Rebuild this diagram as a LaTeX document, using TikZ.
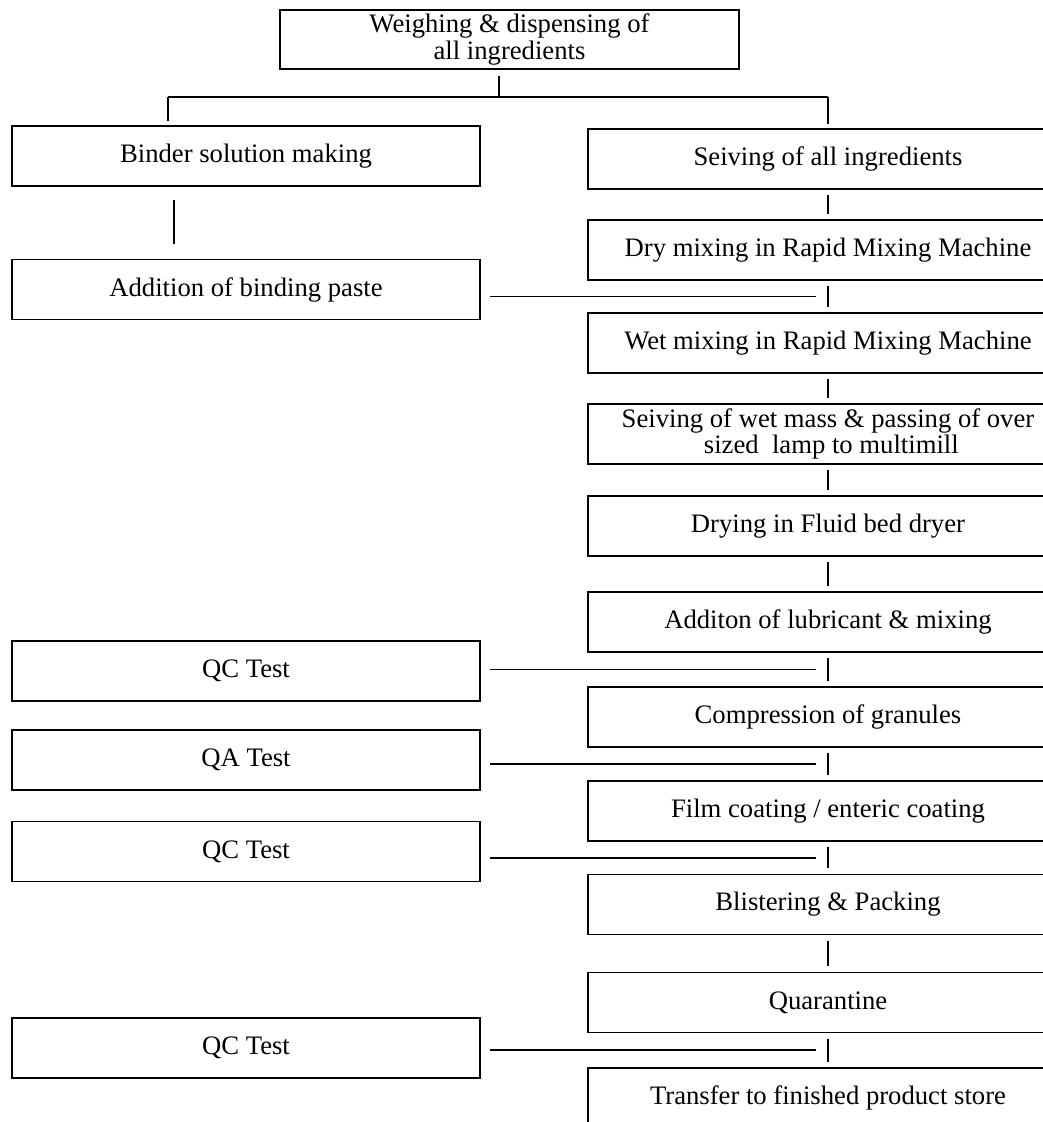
\documentclass[tikz,border=0pt]{standalone}
\usepackage{fontspec}
\setmainfont{Liberation Serif}
\usetikzlibrary{calc}
\tikzset{
	stagebox/.style={draw, line width=1.2pt, minimum width=360pt, minimum height=45pt, inner sep=0pt, align=center, font=\fontsize{20}{20}\selectfont},
	testbox/.style={stagebox, minimum width=351pt},
	flowline/.style={line width=1.2pt},
	tickline/.style={flowline, shorten <=4pt, shorten >=4pt},
	feedline/.style={flowline, shorten <=7pt, shorten >=9pt}
}
\begin{document}
\begin{tikzpicture}[x=0.75pt, y=-0.75pt]
			\useasboundingbox (0,0) rectangle (1043,1122);
			\clip (0,0) rectangle (1043,1122);

			\node(weigh)	[stagebox, minimum width=344pt, minimum height=44pt] at (509.5,39.5) {Weighing \& dispensing of\\all ingredients};
			\node(binder)	[testbox] at (246,156) {Binder solution making};
			\node(seive)	[stagebox] at (828,159) {Seiving of all ingredients};
			\node(dry)		[stagebox] at (828,250) {Dry mixing in Rapid Mixing Machine};
			\node(paste)	[testbox] at (246,289.5) {Addition of binding paste};
			\node(wet)		[stagebox] at (828,343) {Wet mixing in Rapid Mixing Machine};
			\node(wetmass)	[stagebox] at (828,434) {Seiving of wet mass \& passing of over\\ \ sized\ \ lamp to multimill};
			\node(drying)	[stagebox] at (828,526) {Drying in Fluid bed dryer};
			\node(lubri)	[stagebox] at (828,622) {Additon of lubricant \& mixing};
			\node(qca)		[testbox] at (246,671) {QC Test};
			\node(compress)	[stagebox] at (828,717) {Compression of granules};
			\node(qa)		[testbox] at (246,760) {QA Test};
			\node(film)		[stagebox] at (828,811) {Film coating / enteric coating};
			\node(qcb)		[testbox] at (246,851.5) {QC Test};
			\node(blister)	[stagebox] at (828,904.5) {Blistering \& Packing};
			\node(quar)		[stagebox] at (828,1002.5) {Quarantine};
			\node(qcc)		[testbox] at (246,1048) {QC Test};
			\node(transfer)	[stagebox] at (828,1098) {Transfer to finished product store};

			\coordinate(split) at (499,97);
			\coordinate(bl) at (168,97);
			\coordinate(br) at (828,97);
			\coordinate(lv) at (174,200);
			\coordinate(g2) at ($(dry.south)!0.5!(wet.north)$);
			\coordinate(g6) at ($(lubri.south)!0.5!(compress.north)$);
			\coordinate(g7) at ($(compress.south)!0.5!(film.north)$);
			\coordinate(g8) at ($(film.south)!0.5!(blister.north)$);
			\coordinate(g10) at ($(quar.south)!0.5!(transfer.north)$);

			\draw[flowline, shorten <=5pt] (weigh.south -| split) -- (split);
			\draw[flowline] (bl) -- (br);
			\draw[flowline, shorten >=3pt] (bl) -- (bl |- binder.north);
			\draw[flowline, shorten >=3pt] (br) -- (seive.north);
			\draw[flowline, shorten <=10pt, shorten >=11pt] (binder.south -| lv) -- (paste.north -| lv);

			\draw[tickline] (seive) -- (dry);
			\draw[tickline] (dry) -- (wet);
			\draw[tickline] (wet) -- (wetmass);
			\draw[tickline] (wetmass) -- (drying);
			\draw[tickline] (drying) -- (lubri);
			\draw[tickline] (lubri) -- (compress);
			\draw[tickline] (compress) -- (film);
			\draw[tickline] (film) -- (blister);
			\draw[tickline] (blister) -- (quar);
			\draw[tickline] (quar) -- (transfer);

			\draw[feedline] (paste.east |- g2) -- (g2);
			\draw[feedline] (qca.east |- g6) -- (g6);
			\draw[feedline] (qa.east |- g7) -- (g7);
			\draw[feedline] (qcb.east |- g8) -- (g8);
			\draw[feedline] (qcc.east |- g10) -- (g10);
		\end{tikzpicture}
\end{document}
